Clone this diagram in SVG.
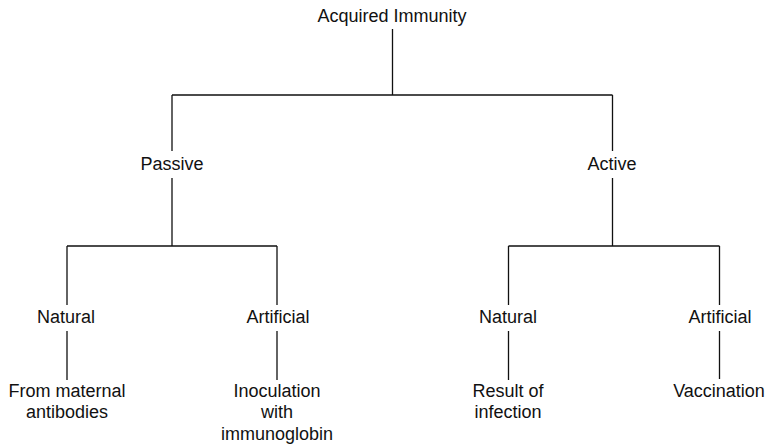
<svg xmlns="http://www.w3.org/2000/svg" width="768" height="447" viewBox="0 0 768 447">
  <style>
    text { font-family: "Liberation Sans", Arial, sans-serif; font-size: 18px; fill: #111; text-anchor: middle; }
    .link { stroke: #111; stroke-width: 1.3; fill: none; }
  </style>
  <rect width="768" height="447" fill="#fff"/>

  <!-- tree connectors -->
  <g id="connectors">
    <path class="link" d="M392.5 29 V95 M172 95 H612.5 M172 95 V151 M612.5 95 V151"/>
    <path class="link" d="M172 178 V246 M67 246 H277 M67 246 V305 M277 246 V305"/>
    <path class="link" d="M612.5 178 V246 M508.5 246 H719.5 M508.5 246 V305 M719.5 246 V305"/>
    <path class="link" d="M67 331 V380 M277 331 V380 M508.5 331 V380 M719.5 331 V379"/>
  </g>

  <g id="acquired-immunity"><text x="392" y="22">Acquired Immunity</text></g>

  <g id="passive"><text x="172" y="170">Passive</text></g>
  <g id="active"><text x="612" y="170">Active</text></g>

  <g id="passive-natural"><text x="66" y="323">Natural</text></g>
  <g id="passive-artificial"><text x="278" y="323">Artificial</text></g>
  <g id="active-natural"><text x="508" y="323">Natural</text></g>
  <g id="active-artificial"><text x="720" y="323">Artificial</text></g>

  <g id="maternal-antibodies">
    <text x="67" y="397">From maternal</text>
    <text x="67" y="418">antibodies</text>
  </g>
  <g id="inoculation">
    <text x="277" y="397">Inoculation</text>
    <text x="277" y="418">with</text>
    <text x="277" y="440">immunoglobin</text>
  </g>
  <g id="infection">
    <text x="508" y="397">Result of</text>
    <text x="508" y="418">infection</text>
  </g>
  <g id="vaccination">
    <text x="719" y="397">Vaccination</text>
  </g>
</svg>
